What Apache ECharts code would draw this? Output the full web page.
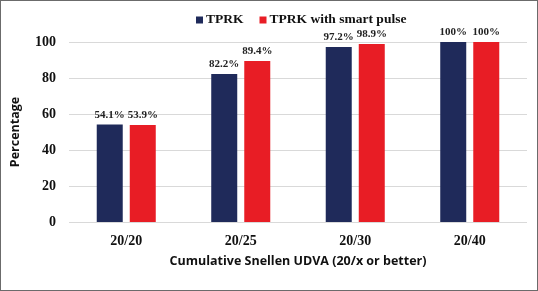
<!DOCTYPE html>
<html><head><meta charset="utf-8">
<script src="https://cdn.jsdelivr.net/npm/echarts@6/dist/echarts.min.js"></script>
<style>html,body{margin:0;padding:0;background:#fff}#c{width:538px;height:291px;box-sizing:border-box;border:1.5px solid #6b6b6b}</style>
</head><body><div id="c"></div>
<script>
var categories = ['20/20','20/25','20/30','20/40'];
var tprk = [54.1, 82.2, 97.2, 100];
var tprkSmart = [53.9, 89.4, 98.9, 100];
var labelsTprk = ['54.1%','82.2%','97.2%','100%'];
var labelsSmart = ['53.9%','89.4%','98.9%','100%'];
var yTicks = [0,20,40,60,80,100];

var chart = echarts.init(document.getElementById('c'));
var serif = '"Liberation Serif","Times New Roman",serif';
var sans = '"Open Sans",sans-serif';
function lab(arr){return {show:true,position:'top',distance:4,fontFamily:serif,fontWeight:'bold',fontSize:11,color:'#222',formatter:function(p){return arr[p.dataIndex];}};}
chart.setOption({
  animation:false,
  legend:{top:7,left:190,itemWidth:7,itemHeight:7,itemGap:16,icon:'rect',
    textStyle:{fontFamily:serif,fontWeight:'bold',fontSize:13.5,color:'#111',padding:[0,0,0,-2]},
    data:['TPRK','TPRK with smart pulse']},
  grid:{left:66,right:10,top:41,bottom:68},
  xAxis:{type:'category',data:categories,
    axisLine:{show:false},axisTick:{show:false},
    axisLabel:{fontFamily:serif,fontWeight:'bold',fontSize:14,color:'#111',margin:12},
    name:'Cumulative Snellen UDVA (20/x or better)',nameLocation:'middle',nameGap:33,
    nameTextStyle:{fontFamily:sans,fontWeight:'bold',fontSize:12.5,color:'#111'}},
  yAxis:{type:'value',min:0,max:100,interval:20,
    axisLine:{show:false},axisTick:{show:false},
    splitLine:{lineStyle:{color:'#d9d9d9',width:1}},
    axisLabel:{fontFamily:serif,fontWeight:'bold',fontSize:14,color:'#111',margin:13,
      formatter:function(v){return yTicks.indexOf(v)>=0?String(v):'';}},
    name:'Percentage',nameLocation:'middle',nameGap:47,
    nameTextStyle:{fontFamily:sans,fontWeight:'bold',fontSize:12.5,color:'#111'}},
  series:[
    {name:'TPRK',type:'bar',data:tprk,barWidth:26,barGap:'27%',itemStyle:{color:'#1f2a5a'},label:lab(labelsTprk)},
    {name:'TPRK with smart pulse',type:'bar',data:tprkSmart,barWidth:26,itemStyle:{color:'#e81d25'},label:lab(labelsSmart)}
  ]
});
</script></body></html>
